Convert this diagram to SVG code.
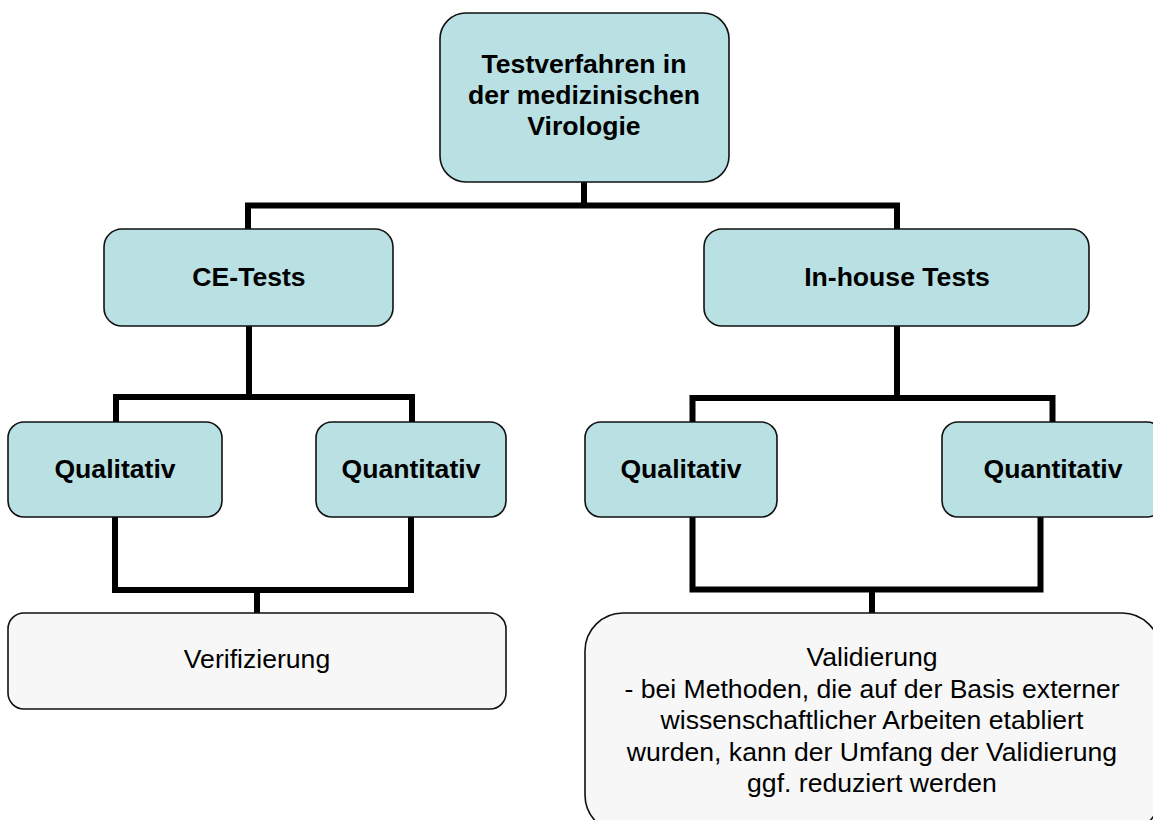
<svg xmlns="http://www.w3.org/2000/svg" width="1153" height="820" viewBox="0 0 1153 820">
<style>
.blue{fill:#b9e0e3;stroke:#111;stroke-width:1.6}
.gray{fill:#f7f7f7;stroke:#111;stroke-width:1.6}
.b{font-family:"Liberation Sans",Arial,sans-serif;font-weight:bold;font-size:26.6px;fill:#000;text-anchor:middle}
.r{font-family:"Liberation Sans",Arial,sans-serif;font-size:26.6px;fill:#000;text-anchor:middle}
.c{fill:none;stroke:#000;stroke-width:6;stroke-linejoin:miter;stroke-linecap:square}
</style>
<rect width="1153" height="820" fill="#fff"/>
<g id="connectors">
<path class="c" d="M584 183 V205.5 M248 229 V205.5 H897 V229"/>
<path class="c" d="M249 327 V397 M116 421 V397 H412 V421"/>
<path class="c" d="M897 327 V398 M692.5 421 V398 H1052.5 V421"/>
<path class="c" d="M115 518 V590 H411 V518 M257 590 V612"/>
<path class="c" d="M692.5 518 V589.5 H1040.5 V518 M872 589.5 V612"/>
</g>
<g id="root">
<rect class="blue" x="440" y="13" width="289" height="169" rx="26"/>
<text class="b" x="584" y="73">Testverfahren in</text>
<text class="b" x="584" y="104">der medizinischen</text>
<text class="b" x="584" y="135">Virologie</text>
</g>
<g id="ce-tests">
<rect class="blue" x="104" y="229" width="289" height="97" rx="18"/>
<text class="b" x="249" y="286">CE-Tests</text>
</g>
<g id="inhouse-tests">
<rect class="blue" x="704" y="229" width="385" height="97" rx="18"/>
<text class="b" x="897" y="286">In-house Tests</text>
</g>
<g id="ce-qualitativ">
<rect class="blue" x="8" y="422" width="214" height="95" rx="16"/>
<text class="b" x="115" y="478">Qualitativ</text>
</g>
<g id="ce-quantitativ">
<rect class="blue" x="316" y="422" width="190" height="95" rx="16"/>
<text class="b" x="411" y="478">Quantitativ</text>
</g>
<g id="ih-qualitativ">
<rect class="blue" x="585" y="422" width="192" height="95" rx="16"/>
<text class="b" x="681" y="478">Qualitativ</text>
</g>
<g id="ih-quantitativ">
<rect class="blue" x="942" y="422" width="221" height="95" rx="16"/>
<text class="b" x="1053" y="478">Quantitativ</text>
</g>
<g id="verifizierung">
<rect class="gray" x="8" y="613" width="498" height="96" rx="16"/>
<text class="r" x="257" y="668">Verifizierung</text>
</g>
<g id="validierung">
<rect class="gray" x="585" y="613" width="575" height="220" rx="38"/>
<text class="r" x="872" y="666">Validierung</text>
<text class="r" x="872" y="698">- bei Methoden, die auf der Basis externer</text>
<text class="r" x="872" y="729">wissenschaftlicher Arbeiten etabliert</text>
<text class="r" x="872" y="761">wurden, kann der Umfang der Validierung</text>
<text class="r" x="872" y="792">ggf. reduziert werden</text>
</g>
</svg>
